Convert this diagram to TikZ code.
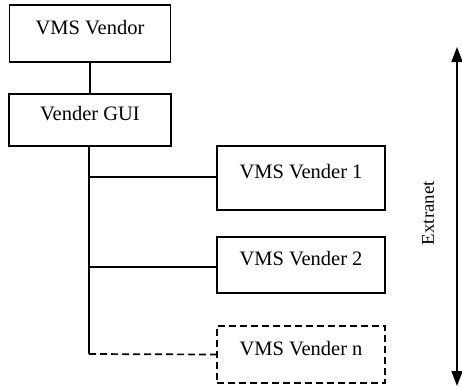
\documentclass[tikz,border=0pt]{standalone}
\usepackage{fontspec}
\setmainfont{Liberation Serif}
\usetikzlibrary{arrows.meta,calc,positioning}
\tikzset{
  box/.style={rectangle,draw,line width=1.7pt,inner sep=0pt,text height=14pt,text depth=13pt,font=\fontsize{20.5}{23}\selectfont},
  optbox/.style={box,dash pattern=on 7pt off 4pt},
  link/.style={line width=1.7pt},
  optlink/.style={line width=1.7pt,dash pattern=on 7pt off 4pt},
  span/.style={{Triangle[width=11pt,length=15pt]}-{Triangle[width=11pt,length=15pt]},line width=1.7pt},
  every node/.style={font=\fontsize{20.5}{23}\selectfont}
}
\begin{document}
\begin{tikzpicture}[x=1pt,y=-1pt]
\useasboundingbox (0,0) rectangle (462,388);
\node[box,minimum width=161pt,minimum height=57pt] (vendor) at (90,33.5) {VMS Vendor};
\node[box,minimum width=162pt,minimum height=52pt] (gui) at (90,120) {Vender GUI};
\node[box,minimum width=168pt,minimum height=64pt] (v1) at (301,178) {VMS Vender 1};
\node[box,minimum width=168pt,minimum height=56pt] (v2) at (301,265) {VMS Vender 2};
\node[optbox,minimum width=168pt,minimum height=57pt] (vn) at (301,354.5) {VMS Vender n};
\coordinate (j1) at (89,177);
\coordinate (j2) at (89,267);
\coordinate (jn) at (89,354);
\draw[link] (vendor) -- (gui);
\draw[link] (gui.south -| jn) -- (jn);
\draw[link] (j1) -- (j1 -| v1.west);
\draw[link] (j2) -- (j2 -| v2.west);
\draw[optlink] (jn) -- (vn.west);
% extranet span
\coordinate (top) at (457,47);
\coordinate (bot) at (457,386);
\draw[span] (top) -- (bot);
\node[rotate=90,xscale=1.05,font=\fontsize{18}{20}\selectfont] (ext) at (428,213) {Extranet};
\end{tikzpicture}
\end{document}
